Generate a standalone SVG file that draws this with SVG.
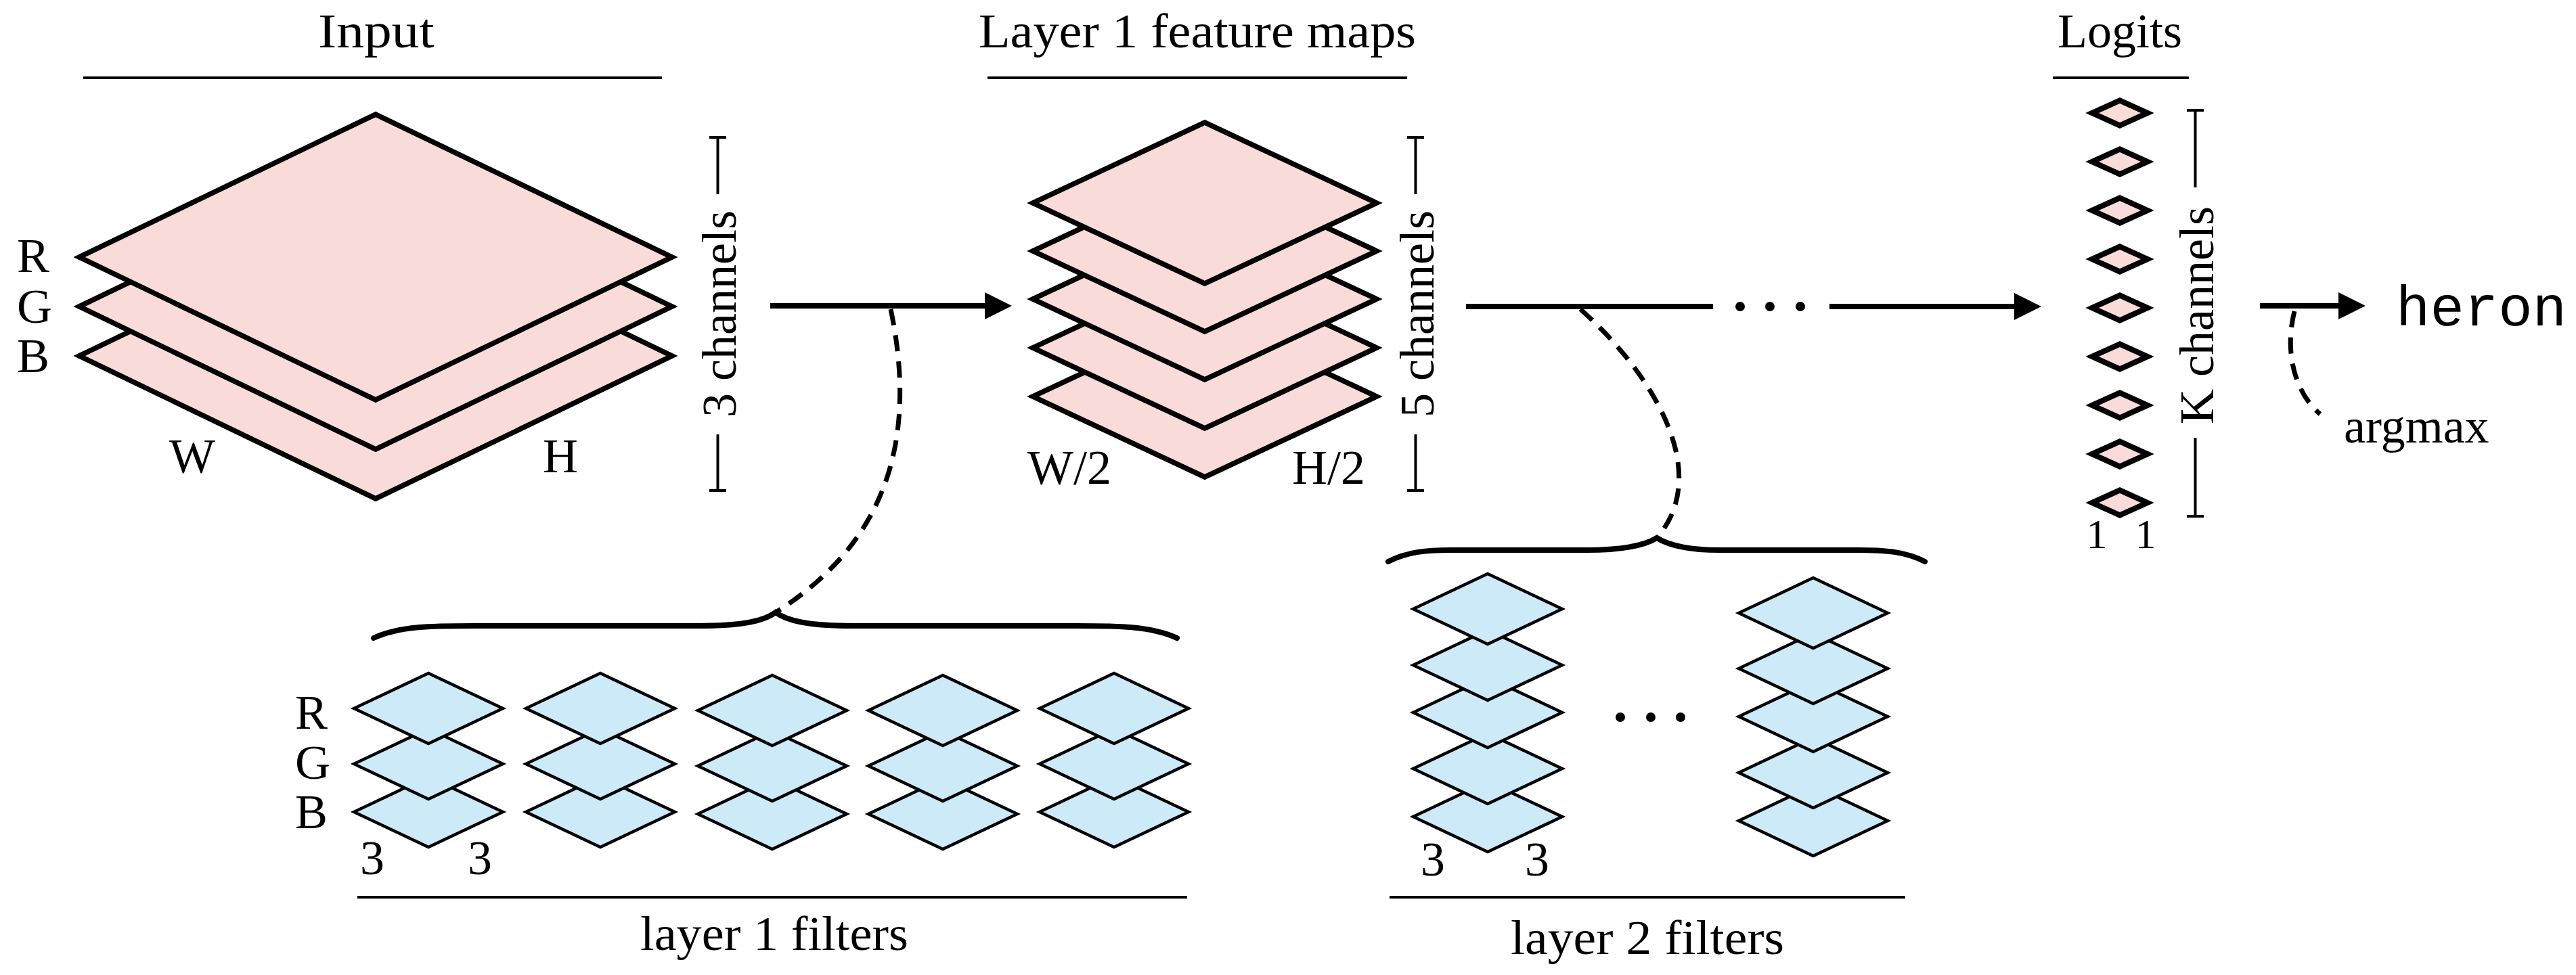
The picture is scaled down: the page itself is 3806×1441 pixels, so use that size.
<svg xmlns="http://www.w3.org/2000/svg" xmlns:xlink="http://www.w3.org/1999/xlink" width="3806" height="1441" viewBox="0 0 3806 1441">
<style>
.t{font-family:"Liberation Serif","Times New Roman",serif;font-size:72px;fill:#000}
.m{text-anchor:middle}
.mono{font-family:"Liberation Mono","Courier New",monospace;font-size:84px;fill:#000}
.pink{fill:#f9dbd9;stroke:#000;stroke-width:7.5;stroke-linejoin:miter;stroke-miterlimit:20}
.blue{fill:#cceaf7;stroke:#000;stroke-width:4.5;stroke-linejoin:miter;stroke-miterlimit:20}
.rule{stroke:#000;stroke-width:4;fill:none}
.arrow{stroke:#000;stroke-width:8;fill:none}
.dash{stroke:#000;stroke-width:7;fill:none;stroke-dasharray:24 15}
.brace{stroke:#000;stroke-width:8;fill:none;stroke-linecap:round}
</style>
<defs>
<marker id="head" viewBox="0 0 40 40" refX="8" refY="20" markerWidth="40" markerHeight="40" markerUnits="userSpaceOnUse" orient="auto">
<path d="M0,0 L40,20 L0,40 z" fill="#000"/>
</marker>
<polygon id="bd" class="blue" points="-110,0 0,-52 110,0 0,52"/>
<polygon id="sd" class="pink" points="-41,0 0,-18.5 41,0 0,18.5" style="stroke-width:8"/>
</defs>
<rect width="3806" height="1441" fill="#fff"/>

<g id="input">
<text class="t m" x="556" y="70" textLength="172" lengthAdjust="spacingAndGlyphs">Input</text>
<line class="rule" x1="123" y1="115" x2="978" y2="115"/>
<polygon class="pink" points="117,526 555,315 993,526 555,737"/>
<polygon class="pink" points="117,453 555,242 993,453 555,664"/>
<polygon class="pink" points="117,380 555,169 993,380 555,591"/>
<text class="t" x="25" y="402">R</text>
<text class="t" x="25" y="477">G</text>
<text class="t" x="25" y="550">B</text>
<text class="t m" x="284" y="698">W</text>
<text class="t m" x="828" y="698">H</text>
<path class="rule" d="M1048,203 H1073 M1060.5,203 V287 M1060.5,642 V725 M1048,725 H1073"/>
<text class="t m" transform="translate(1087,464) rotate(-90)">3 channels</text>
</g>

<g id="feature-maps">
<text class="t m" x="1769" y="70" textLength="646" lengthAdjust="spacingAndGlyphs">Layer 1 feature maps</text>
<line class="rule" x1="1459" y1="115" x2="2079" y2="115"/>
<polygon class="pink" points="1526,586 1780,467 2034,586 1780,705"/>
<polygon class="pink" points="1526,514 1780,395 2034,514 1780,633"/>
<polygon class="pink" points="1526,442 1780,323 2034,442 1780,561"/>
<polygon class="pink" points="1526,371 1780,252 2034,371 1780,490"/>
<polygon class="pink" points="1526,300 1780,181 2034,300 1780,419"/>
<text class="t m" x="1580" y="715">W/2</text>
<text class="t m" x="1963" y="715">H/2</text>
<path class="rule" d="M2079,203 H2104 M2091.5,203 V287 M2091.5,642 V725 M2079,725 H2104"/>
<text class="t m" transform="translate(2118,464) rotate(-90)">5 channels</text>
</g>

<g id="logits">
<text class="t m" x="3132" y="70">Logits</text>
<line class="rule" x1="3033" y1="115" x2="3234" y2="115"/>
<use xlink:href="#sd" x="3132" y="743"/>
<use xlink:href="#sd" x="3132" y="671"/>
<use xlink:href="#sd" x="3132" y="599"/>
<use xlink:href="#sd" x="3132" y="527"/>
<use xlink:href="#sd" x="3132" y="455"/>
<use xlink:href="#sd" x="3132" y="383"/>
<use xlink:href="#sd" x="3132" y="311"/>
<use xlink:href="#sd" x="3132" y="239"/>
<use xlink:href="#sd" x="3132" y="167"/>
<text class="t m" x="3098" y="810" style="font-size:62px">1</text>
<text class="t m" x="3170" y="810" style="font-size:62px">1</text>
<path class="rule" d="M3231,163 H3256 M3243.5,163 V277 M3243.5,647 V763 M3231,763 H3256"/>
<text class="t m" transform="translate(3270,466) rotate(-90)">K channels</text>
</g>

<g id="output">
<text class="mono" x="3540" y="481">heron</text>
<text class="t" x="3463" y="654">argmax</text>
</g>

<g id="layer1-filters">
<path class="brace" d="M552,943 C590,925 640,925 700,925 L1030,925 C1100,925 1130,917 1146,905 C1162,917 1192,925 1262,925 L1590,925 C1650,925 1700,925 1739,943"/>
<use xlink:href="#bd" x="633" y="1200"/>
<use xlink:href="#bd" x="633" y="1129"/>
<use xlink:href="#bd" x="633" y="1047"/>
<use xlink:href="#bd" x="887" y="1200"/>
<use xlink:href="#bd" x="887" y="1129"/>
<use xlink:href="#bd" x="887" y="1047"/>
<use xlink:href="#bd" x="1141" y="1203"/>
<use xlink:href="#bd" x="1141" y="1132"/>
<use xlink:href="#bd" x="1141" y="1050"/>
<use xlink:href="#bd" x="1393" y="1203"/>
<use xlink:href="#bd" x="1393" y="1132"/>
<use xlink:href="#bd" x="1393" y="1050"/>
<use xlink:href="#bd" x="1646" y="1200"/>
<use xlink:href="#bd" x="1646" y="1129"/>
<use xlink:href="#bd" x="1646" y="1047"/>
<text class="t" x="436" y="1077">R</text>
<text class="t" x="436" y="1151">G</text>
<text class="t" x="436" y="1224">B</text>
<text class="t m" x="550" y="1292">3</text>
<text class="t m" x="709" y="1292">3</text>
<line class="rule" x1="528" y1="1326" x2="1754" y2="1326"/>
<text class="t m" x="1144" y="1404" textLength="396" lengthAdjust="spacingAndGlyphs">layer 1 filters</text>
</g>

<g id="layer2-filters">
<path class="brace" d="M2051,830 C2080,815 2110,813 2143,813 L2344,813 C2400,813 2430,806 2448,795 C2466,806 2496,813 2540,813 L2746,813 C2785,813 2815,815 2844,830"/>
<use xlink:href="#bd" x="2198" y="1207"/>
<use xlink:href="#bd" x="2198" y="1136"/>
<use xlink:href="#bd" x="2198" y="1053"/>
<use xlink:href="#bd" x="2198" y="983"/>
<use xlink:href="#bd" x="2198" y="900"/>
<circle cx="2394" cy="1060" r="7"/>
<circle cx="2439" cy="1060" r="7"/>
<circle cx="2483" cy="1060" r="7"/>
<use xlink:href="#bd" x="2679" y="1213"/>
<use xlink:href="#bd" x="2679" y="1142"/>
<use xlink:href="#bd" x="2679" y="1059"/>
<use xlink:href="#bd" x="2679" y="988"/>
<use xlink:href="#bd" x="2679" y="906"/>
<text class="t m" x="2117" y="1294">3</text>
<text class="t m" x="2271" y="1294">3</text>
<line class="rule" x1="2053" y1="1326" x2="2815" y2="1326"/>
<text class="t m" x="2434" y="1410" textLength="404" lengthAdjust="spacingAndGlyphs">layer 2 filters</text>
</g>

<g id="connectors">
<line class="arrow" x1="1138" y1="452" x2="1463" y2="452" marker-end="url(#head)"/>
<line class="arrow" x1="2166" y1="453" x2="2531" y2="453"/>
<circle cx="2571" cy="453" r="7"/>
<circle cx="2615" cy="453" r="7"/>
<circle cx="2660" cy="453" r="7"/>
<line class="arrow" x1="2703" y1="453" x2="2984" y2="453" marker-end="url(#head)"/>
<line class="arrow" x1="3339" y1="452" x2="3463" y2="452" marker-end="url(#head)"/>
<path class="dash" d="M1316,457 C1350,620 1330,790 1146,905"/>
<path class="dash" d="M2335,457 C2445,555 2530,700 2448,795"/>
<path class="dash" d="M3390,460 C3375,520 3390,580 3428,612"/>
</g>
</svg>
